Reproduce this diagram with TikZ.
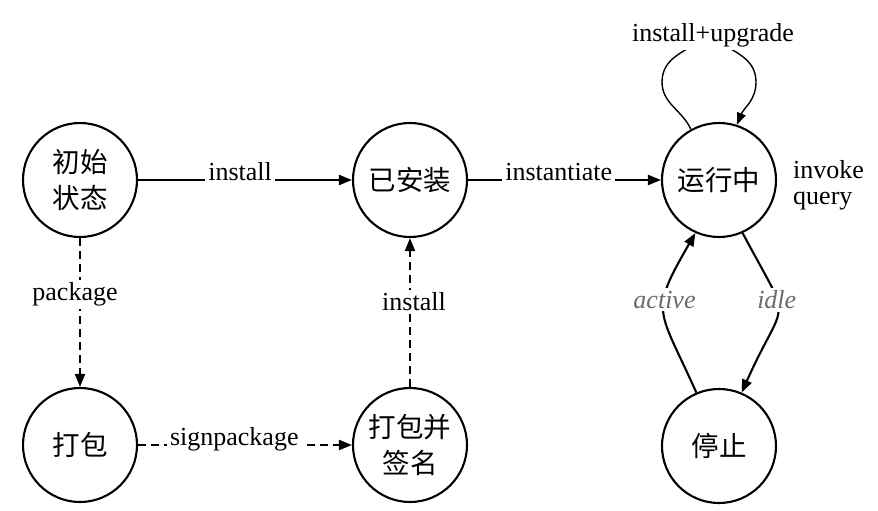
\documentclass[tikz,border=0pt]{standalone}
\usepackage{fontspec}
\setmainfont{Liberation Serif}
\newfontfamily\cjk{Noto Sans CJK SC}
\usetikzlibrary{arrows.meta}
\begin{document}
\begin{tikzpicture}[x=1pt,y=1pt,
  state/.style={circle,draw,line width=2.1pt,minimum size=114pt,inner sep=0pt,
    font=\cjk\fontsize{27.5}{36}\selectfont,align=center},
  arr/.style={line width=2.1pt,-{Triangle[length=13pt,width=10pt]}},
  dsh/.style={arr,dash pattern=on 8pt off 5pt},
  thinarr/.style={line width=1.4pt,-{Triangle[length=12pt,width=9pt]}},
  lbl/.style={fill=white,inner sep=3pt,font=\fontsize{26}{28}\selectfont},
  ilbl/.style={fill=white,inner sep=3pt,font=\itshape\fontsize{26}{28}\selectfont,text=black!58}]
\useasboundingbox (0,0) rectangle (878,-511);
\node[state] (init) at (80,-180) {初始\\状态};
\node[state] (inst) at (410,-180) {已安装};
\node[state] (run) at (719,-180) {运行中};
\node[state] (pack) at (80,-445) {打包};
\node[state] (sign) at (410,-445) {打包并\\签名};
\node[state] (stop) at (719,-446) {停止};

\draw[arr] (init) -- node[lbl,anchor=base,pos=0.477] {install} (inst);
\draw[arr] (inst) -- node[lbl,anchor=base,pos=0.47] {instantiate} (run);
\draw[dsh] (init) -- node[lbl,pos=0.38,xshift=-5pt] {package} (pack);
\draw[dsh] (pack) -- node[lbl,anchor=base,pos=0.45] {signpackage} (sign);
\draw[dsh] (sign) -- node[lbl,pos=0.57,xshift=4pt] {install} (inst);

\draw[arr] (stop.113) to[out=114,in=240,looseness=1.5]
  node[ilbl,pos=0.6] {active} (run.246);
\draw[arr] (run.294) to[out=298,in=66,looseness=1.75]
  node[ilbl,pos=0.38] {idle} (stop.67);

\coordinate (looptop) at (709,-36);
\coordinate (lb) at (662,-82);
\coordinate (rb) at (756,-82);
\draw[thinarr] (run.119) to[out=115,in=270] (lb) to[out=90,in=215] (looptop)
  to[out=-35,in=90] (rb) to[out=270,in=68] (run.72);
\node[lbl] (lup) at (713,-35) {install+upgrade};

\node[font=\fontsize{26}{26}\selectfont,align=left,anchor=north west,inner sep=0pt] (iq) at (793,-160) {invoke\\query};
\end{tikzpicture}
\end{document}
